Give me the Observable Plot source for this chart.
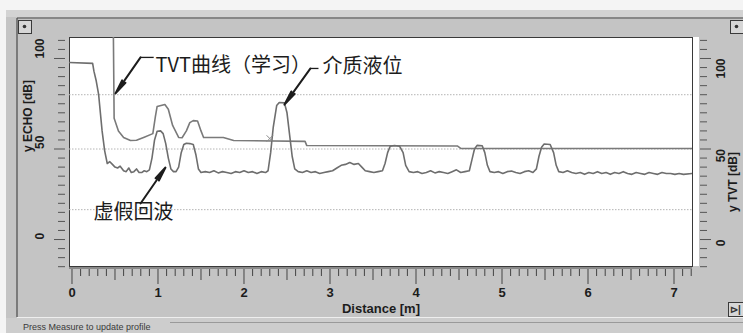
<!DOCTYPE html>
<html>
<head>
<meta charset="utf-8">
<script src="https://cdn.jsdelivr.net/npm/d3@7"></script>
<script src="https://cdn.jsdelivr.net/npm/@observablehq/plot@0.6"></script>
<style>
  html, body { margin: 0; padding: 0; background: #f4f4f4; }
  svg { display: block; }
</style>
</head>
<body>
<div id="chart"></div>
<script>
// ---- data ----
const echoDist = [-0.03,0.24,0.255,0.28,0.31,0.33,0.35,0.38,0.41,0.44,0.47,0.50,0.53,0.56,0.60,0.63,0.66,0.69,0.72,0.75,0.78,0.81,0.84,0.87,0.90,0.93,0.96,0.99,1.03,1.06,1.09,1.12,1.15,1.18,1.21,1.24,1.27,1.30,1.33,1.37,1.41,1.44,1.47,1.50,1.55,1.60,1.65,1.70,1.75,1.80,1.85,1.90,1.95,2.00,2.05,2.10,2.15,2.20,2.25,2.28,2.31,2.34,2.38,2.41,2.47,2.50,2.53,2.56,2.59,2.63,2.68,2.73,2.78,2.83,2.88,2.93,2.98,3.03,3.08,3.13,3.18,3.23,3.28,3.33,3.37,3.41,3.46,3.51,3.56,3.61,3.64,3.67,3.70,3.75,3.81,3.85,3.88,3.92,3.97,4.02,4.07,4.12,4.17,4.22,4.27,4.32,4.37,4.42,4.47,4.52,4.57,4.62,4.65,4.68,4.71,4.77,4.80,4.83,4.86,4.91,4.96,5.01,5.06,5.11,5.16,5.21,5.26,5.31,5.36,5.40,5.43,5.46,5.49,5.56,5.60,5.63,5.66,5.71,5.76,5.81,5.86,5.91,5.96,6.01,6.06,6.11,6.16,6.21,6.26,6.31,6.36,6.41,6.46,6.51,6.56,6.61,6.66,6.71,6.76,6.81,6.86,6.91,6.96,7.01,7.06,7.11,7.21];
const echoDb = [97.8,97.3,93,88,80,70,60,49,42,43,41.5,40,39.5,40.5,38,37.5,39.5,37,37.5,39,37,37,38,37.5,38.5,45,55,59.8,60,58.5,53,45,39,37.5,37.5,40,48,52.5,53.2,53,52.5,47,39,37,37.5,37,38,36.8,37.5,37,36.5,37.5,37,38,37,37.5,36.5,37.5,37,38,48,62,74,75.7,75.5,70,58,46,39,37.5,37,38,37,37.5,36.5,37,37.5,38,39.5,41,41.5,42.5,41.5,42,40,38,37.5,37,37.5,38,42,48,51.5,51.9,51.5,48,41,37.5,37,37.5,36.5,37,38,36.8,37.5,37,36.5,37.5,38.5,37,37.5,38,44,50,52,51.8,48,41,37.5,37,37.5,36.5,37.5,37.8,37,36.5,37.5,38,37,39,46,51,52.8,52.5,48,41,37.5,37,38,37,36.5,37,36,37,36.5,37.5,36.5,37,36,37,36.5,37.5,36.5,36,37,36.5,36,37,36.5,36,37,36.5,36.5,36,36.5,36,36.5];

const tvtDist = [-0.03,0.48,0.49,0.54,0.60,0.68,0.75,0.84,0.94,0.97,0.99,1.08,1.12,1.17,1.24,1.28,1.33,1.37,1.41,1.46,1.50,1.53,1.76,1.88,2.71,2.73,4.48,4.52,7.21];
const tvtDb   = [120,120,67,60,56.4,54.7,54.8,56.5,58.5,68,73.5,74.6,72,63,56.4,56.2,60,64.6,65.7,65.5,60,56.4,56.4,54.7,54.2,51.9,51.7,50.3,50.3];

const gridDb = [80, 50, 16.5];
const xMajorTicks = [0,1,2,3,4,5,6,7];
const xHalfTicks = [0.5,1.5,2.5,3.5,4.5,5.5,6.5];
const xMinorTicks = d3.range(0, 73).map(i => i / 10).filter(v => Math.abs(v*2 - Math.round(v*2)) > 1e-6);
const yMajorTicks = [0, 50, 100];
const yMinorTicks = d3.range(-15, 111, 5).filter(v => v % 50 !== 0);

const cursorDist = [2.30], cursorDb = [55.8];

const annoText = ["TVT曲线（学习）", "介质液位", "虚假回波"];
const annoDist = [0.971, 2.913, 0.25];
const annoDb   = [96.1, 95.3, 14.9];

const leaderX1 = [0.797, 2.773, 0.797];
const leaderY1 = [100.6, 94.5, 19.9];
const leaderX2 = [0.506, 2.47, 1.087];
const leaderY2 = [80.7, 74.5, 39.8];
const hookX1 = [0.797, 2.773], hookX2 = [0.95, 2.866], hookY = [100.6, 94.5];

const xLabel = "Distance [m]";
const yLeftLabel = "y ECHO [dB]";
const yRightLabel = "y TVT [dB]";
const statusText = "Press Measure to update profile";

// ---- tables ----
const echo = echoDist.map((d, i) => ({dist: d, db: echoDb[i]}));
const tvt = tvtDist.map((d, i) => ({dist: d, db: tvtDb[i]}));
const anno = annoText.map((t, i) => ({t, x: annoDist[i], y: annoDb[i]}));
const leaders = leaderX1.map((d, i) => ({x1: d, y1: leaderY1[i], x2: leaderX2[i], y2: leaderY2[i]}));
const hooks = hookX1.map((d, i) => ({x1: d, x2: hookX2[i], y: hookY[i]}));

const axisFont = "'Liberation Sans', Arial, sans-serif";
const cjkFont = "'Noto Sans CJK SC', sans-serif";
const ink = "#1c1c1c";

const chart = Plot.plot({
  width: 743, height: 333,
  marginLeft: 69, marginRight: 51, marginTop: 37, marginBottom: 67,
  style: {fontFamily: axisFont, background: "transparent", overflow: "visible"},
  x: {domain: [-0.029, 7.215], label: null},
  y: {domain: [-14.9, 111.6], label: null},
  marks: [
    Plot.frame({fill: "white", stroke: "#3a3a3a", strokeWidth: 1}),
    Plot.ruleY(gridDb, {stroke: "#b4b4b4", strokeDasharray: "1.5,1.5", strokeWidth: 1}),
    Plot.line(tvt, {x: "dist", y: "db", stroke: "#7a7a7a", strokeWidth: 1.6, clip: true}),
    Plot.line(echo, {x: "dist", y: "db", stroke: "#6e6e6e", strokeWidth: 1.6, clip: true}),
    Plot.dot(cursorDist.map((d, i) => ({x: d, y: cursorDb[i]})), {x: "x", y: "y", symbol: "times", r: 3, stroke: "#8a8a8a", strokeWidth: 1}),
    // annotations
    Plot.link(hooks, {x1: "x1", x2: "x2", y1: "y", y2: "y", stroke: ink, strokeWidth: 1.3}),
    Plot.arrow(leaders, {x1: "x1", y1: "y1", x2: "x2", y2: "y2", stroke: ink, strokeWidth: 2, headAngle: 16, headLength: 14}),
    Plot.text(anno, {x: "x", y: "y", text: "t", textAnchor: "start", lineAnchor: "middle", fontSize: 20, fill: ink, fontFamily: cjkFont}),
    // x axis
    Plot.axisX(xMinorTicks, {tickSize: 7, dy: 3, tickFormat: () => "", stroke: "#444", label: null}),
    Plot.axisX(xHalfTicks, {tickSize: 11, dy: 3, tickFormat: () => "", stroke: "#444", label: null}),
    Plot.axisX(xMajorTicks, {tickSize: 15, dy: 3, tickPadding: 3, stroke: "#444", fill: ink, fontSize: 13, fontWeight: "bold", label: null}),
    Plot.text([xLabel], {frameAnchor: "bottom", dy: 46, text: d => d, fontSize: 13, fontWeight: "bold", fill: ink}),
    // left y axis
    Plot.axisY(yMinorTicks, {anchor: "left", tickSize: 7, dx: -4, tickFormat: () => "", stroke: "#555", label: null}),
    Plot.axisY(yMajorTicks, {anchor: "left", tickSize: 11, dx: -4, tickFormat: () => "", stroke: "#555", label: null}),
    Plot.text(yMajorTicks, {y: d => d, text: d => String(d), frameAnchor: "left", dx: -29, rotate: -90, fontSize: 12, fontWeight: "bold", fill: ink}),
    Plot.text([yLeftLabel], {frameAnchor: "left", dx: -41, rotate: -90, text: d => d, fontSize: 12, fontWeight: "bold", fill: ink}),
    // right y axis
    Plot.axisY(yMinorTicks, {anchor: "right", tickSize: 7, dx: 7, tickFormat: () => "", stroke: "#555", label: null}),
    Plot.axisY(yMajorTicks, {anchor: "right", tickSize: 11, dx: 7, tickFormat: () => "", stroke: "#555", label: null}),
    Plot.text(yMajorTicks, {y: d => d, text: d => String(d), frameAnchor: "right", dx: 29, rotate: -90, fontSize: 12, fontWeight: "bold", fill: ink}),
    Plot.text([yRightLabel], {frameAnchor: "right", dx: 41, rotate: -90, text: d => d, fontSize: 12, fontWeight: "bold", fill: ink})
  ]
});

document.getElementById("chart").appendChild(chart);

// ---- window chrome (decoration only) ----
const svg = d3.select(chart);
const bg = svg.insert("g", ":first-child");
bg.append("rect").attr("x", 0).attr("y", 0).attr("width", 743).attr("height", 333).attr("fill", "#f4f4f4");
bg.append("rect").attr("x", 6).attr("y", 10).attr("width", 737).attr("height", 323).attr("fill", "#c4c4c4");
bg.append("rect").attr("x", 6).attr("y", 10).attr("width", 737).attr("height", 7).attr("fill", "#d3d3d3");
bg.append("rect").attr("x", 6).attr("y", 318).attr("width", 737).attr("height", 15).attr("fill", "#cdcdcd");
bg.append("line").attr("x1", 17).attr("x2", 743).attr("y1", 18).attr("y2", 18).attr("stroke", "#4a4a4a").attr("stroke-width", 1.2);
bg.append("line").attr("x1", 17).attr("x2", 17).attr("y1", 18).attr("y2", 317).attr("stroke", "#4a4a4a").attr("stroke-width", 1.2);
bg.append("line").attr("x1", 17).attr("x2", 743).attr("y1", 317.5).attr("y2", 317.5).attr("stroke", "#eeeeee");
bg.append("line").attr("x1", 170).attr("x2", 743).attr("y1", 322.5).attr("y2", 322.5).attr("stroke", "#9a9a9a");
// white strip by the right axis
bg.append("rect").attr("x", 692).attr("y", 37).attr("width", 7).attr("height", 229).attr("fill", "#ffffff");
// bottom double border
bg.append("rect").attr("x", 69).attr("y", 266).attr("width", 623).attr("height", 3).attr("fill", "#8a8a8a");

const fg = svg.append("g").attr("text-anchor", "start");
function button(x, y, w, h) {
  fg.append("rect").attr("x", x + 0.5).attr("y", y + 0.5).attr("width", w).attr("height", h)
    .attr("fill", "#d6d6d6").attr("stroke", "#3a3a3a");
}
button(18, 20, 13, 13);
fg.append("circle").attr("cx", 24.5).attr("cy", 26.5).attr("r", 1.8).attr("fill", "#333");
button(730, 20, 13, 13);
fg.append("circle").attr("cx", 736.5).attr("cy", 26.5).attr("r", 1.8).attr("fill", "#333");
button(728, 302, 15, 14);
fg.append("text").attr("x", 735.5).attr("y", 313).attr("text-anchor", "middle")
  .attr("font-family", axisFont).attr("font-size", 10).attr("font-weight", "bold").attr("fill", "#333").text("⊳|");
fg.append("text").attr("x", 23).attr("y", 330).attr("text-anchor", "start").attr("font-family", axisFont).attr("font-size", 9)
  .attr("fill", "#3a3a3a").text(statusText);
</script>
</body>
</html>
